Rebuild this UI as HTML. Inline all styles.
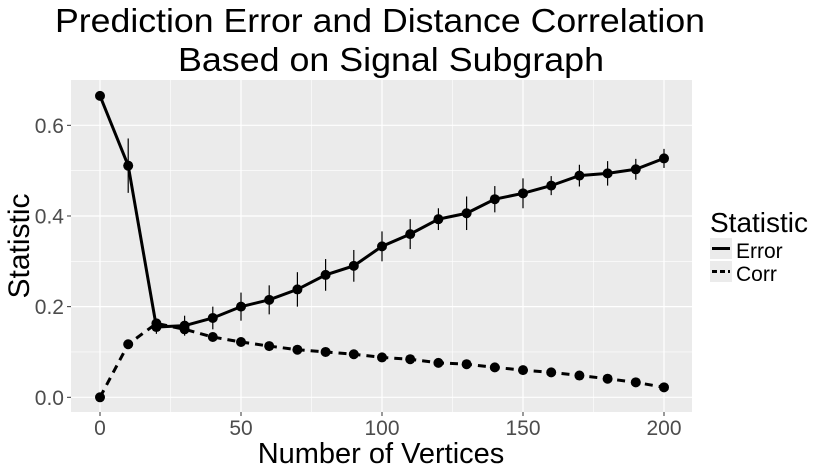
<!DOCTYPE html>
<html><head><meta charset="utf-8"><style>body{margin:0;background:#fff}svg{display:block}</style></head>
<body>
<svg id="chart" width="825" height="469" xmlns="http://www.w3.org/2000/svg" font-family="Liberation Sans, sans-serif">
<text x="380" y="32" font-size="33" text-anchor="middle" textLength="650" lengthAdjust="spacingAndGlyphs">Prediction Error and Distance Correlation</text>
<text x="391" y="71" font-size="33" text-anchor="middle" textLength="426" lengthAdjust="spacingAndGlyphs">Based on Signal Subgraph</text>
<rect x="71" y="80" width="621" height="332" fill="#ebebeb"/>
<g id="grid"></g>
<g id="series"></g>
<g id="axes"></g>
<text x="381" y="463" font-size="29" text-anchor="middle">Number of Vertices</text>
<text transform="translate(29,246) rotate(-90)" font-size="30" text-anchor="middle">Statistic</text>
<g>
<text x="710" y="232" font-size="28">Statistic</text>
<rect x="710" y="238" width="22" height="21" fill="#ebebeb"/>
<line x1="712" y1="248.5" x2="730" y2="248.5" stroke="#000" stroke-width="3"/>
<text x="736" y="258" font-size="21">Error</text>
<rect x="710" y="261" width="22" height="21" fill="#ebebeb"/>
<line x1="712" y1="271.5" x2="730" y2="271.5" stroke="#000" stroke-width="3" stroke-dasharray="5,3"/>
<text x="736" y="281" font-size="21">Corr</text>
</g>
</svg>
<script>
const vertices=[0,10,20,30,40,50,60,70,80,90,100,110,120,130,140,150,160,170,180,190,200];
const errorVals=[0.665,0.511,0.155,0.158,0.175,0.2,0.215,0.238,0.27,0.29,0.333,0.36,0.393,0.406,0.437,0.45,0.467,0.489,0.494,0.503,0.527];
const errorSd=[0.003,0.06,0.015,0.022,0.025,0.031,0.032,0.038,0.035,0.035,0.033,0.033,0.024,0.037,0.029,0.033,0.021,0.024,0.027,0.023,0.021];
const corrVals=[0.0,0.117,0.163,0.15,0.133,0.122,0.113,0.105,0.1,0.095,0.088,0.084,0.076,0.073,0.066,0.06,0.055,0.048,0.041,0.033,0.022];
const xTicks=[0,50,100,150,200];
const yTicks=[0,0.2,0.4,0.6];
const yTickLabels=["0.0","0.2","0.4","0.6"];
const NS="http://www.w3.org/2000/svg";
const X=v=>100+v*2.82;
const Y=v=>397.3-v*453.3;
function mk(tag,attrs,parent){const e=document.createElementNS(NS,tag);for(const k in attrs)e.setAttribute(k,attrs[k]);parent.appendChild(e);return e;}
const grid=document.getElementById('grid'),series=document.getElementById('series'),axes=document.getElementById('axes');
[0.1,0.3,0.5].forEach(v=>{const l=mk('line',{x1:71,x2:692,y1:Y(v),y2:Y(v),stroke:'#fff','stroke-width':0.6},grid);

});
[25,75,125,175].forEach(v=>{const l=mk('line',{x1:X(v),x2:X(v),y1:80,y2:412,stroke:'#fff','stroke-width':0.6},grid);

});
yTicks.forEach((v,i)=>{const l=mk('line',{x1:71,x2:692,y1:Y(v),y2:Y(v),stroke:'#fff','stroke-width':1.2},grid);


mk('line',{x1:67,x2:71,y1:Y(v),y2:Y(v),stroke:'#333','stroke-width':1},axes);
const t=mk('text',{x:64,y:Y(v)+7.5,'font-size':21,'text-anchor':'end',fill:'#4d4d4d'},axes);t.textContent=yTickLabels[i];

});
xTicks.forEach(v=>{const l=mk('line',{x1:X(v),x2:X(v),y1:80,y2:412,stroke:'#fff','stroke-width':1.2},grid);


mk('line',{x1:X(v),x2:X(v),y1:412,y2:416,stroke:'#333','stroke-width':1},axes);
const t=mk('text',{x:X(v),y:435,'font-size':21,'text-anchor':'middle',fill:'#4d4d4d'},axes);t.textContent=String(v);

});
const pe=mk('polyline',{points:vertices.map((v,i)=>X(v)+','+Y(errorVals[i])).join(' '),fill:'none',stroke:'#000','stroke-width':3},series);


const pc=mk('polyline',{points:vertices.map((v,i)=>X(v)+','+Y(corrVals[i])).join(' '),fill:'none',stroke:'#000','stroke-width':3,'stroke-dasharray':'8,6'},series);


vertices.forEach((v,i)=>{
const b=mk('line',{x1:X(v),x2:X(v),y1:Y(errorVals[i]-errorSd[i]),y2:Y(errorVals[i]+errorSd[i]),stroke:'#000','stroke-width':1.2},series);


const c=mk('circle',{cx:X(v),cy:Y(errorVals[i]),r:5,fill:'#000'},series);


const d=mk('circle',{cx:X(v),cy:Y(corrVals[i]),r:5,fill:'#000'},series);

});
</script>
</body></html>
